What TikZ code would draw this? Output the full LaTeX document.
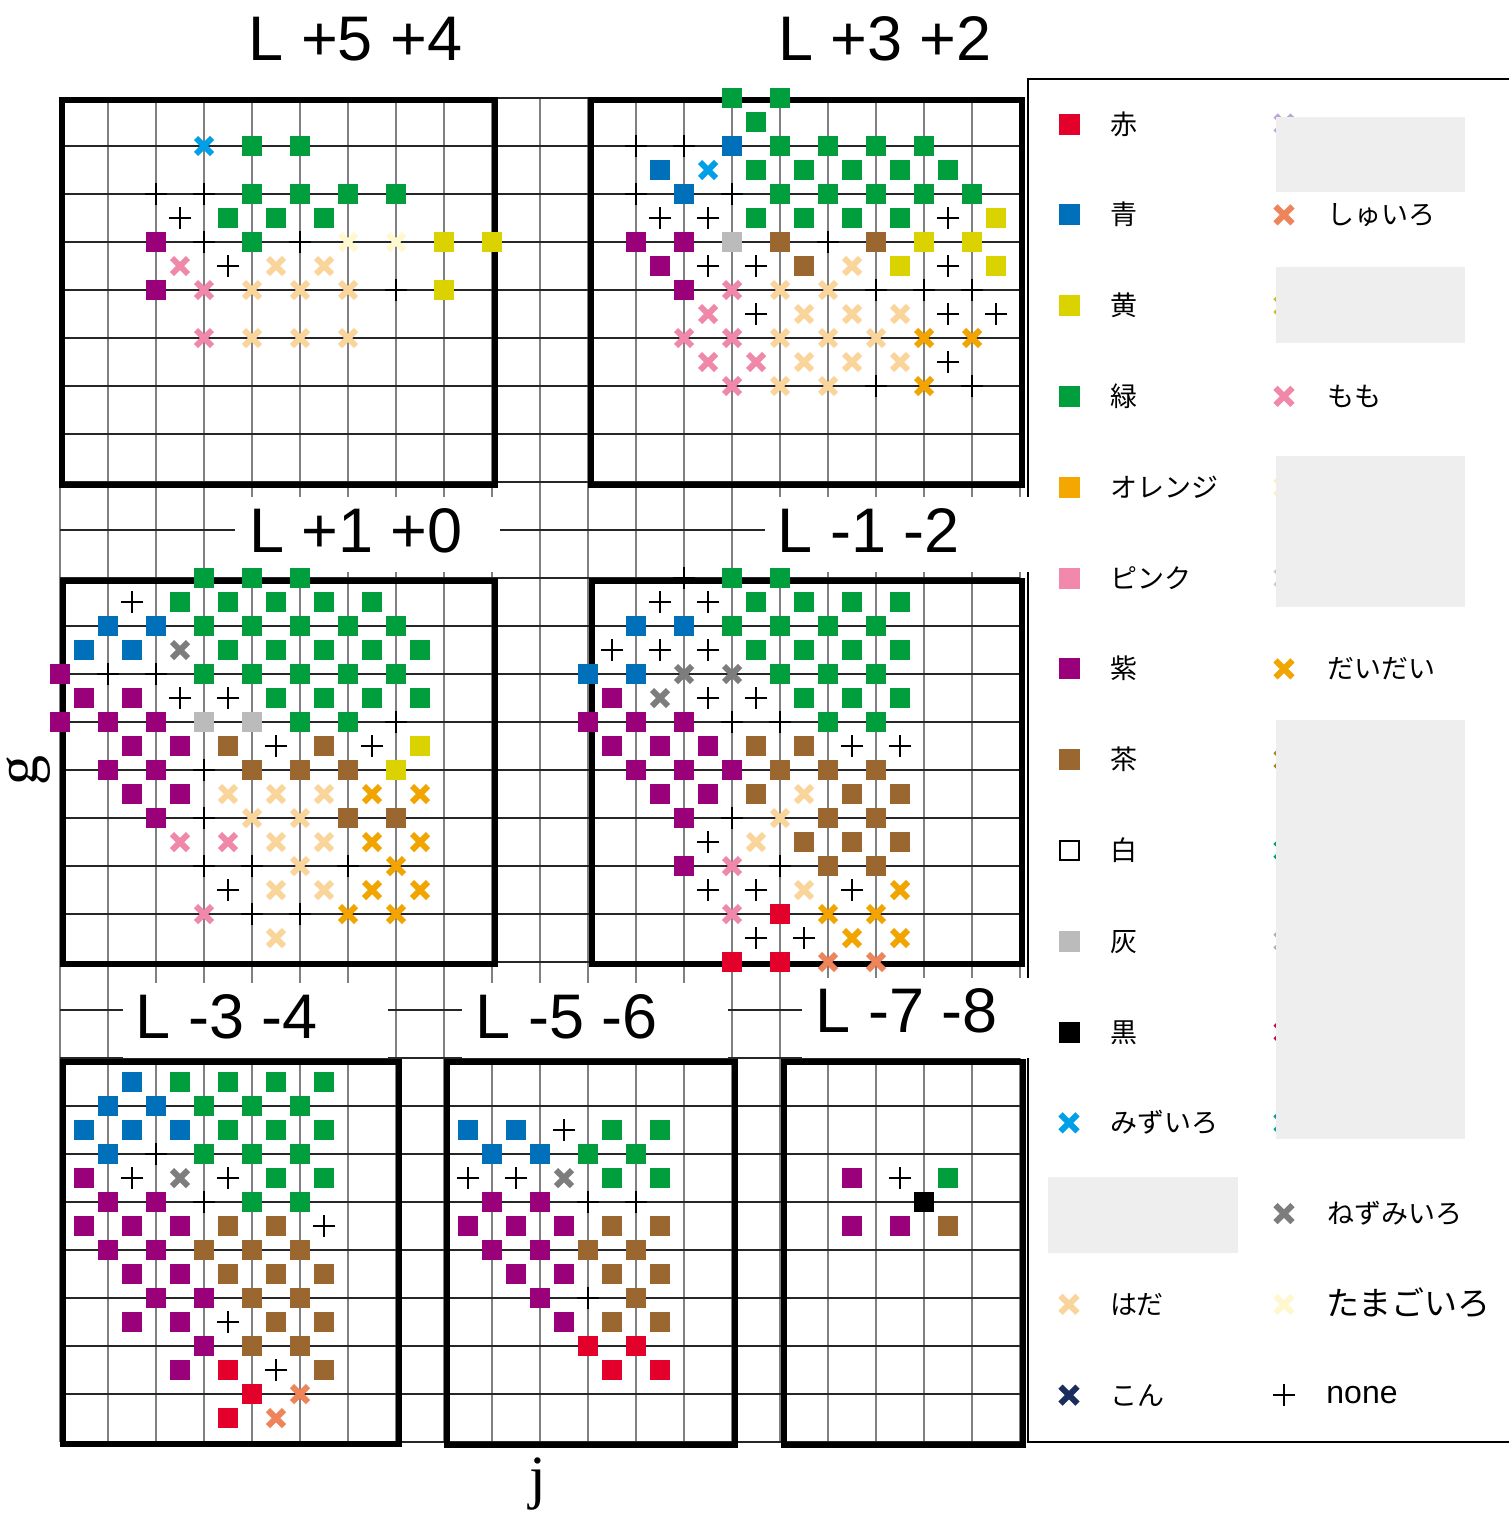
\documentclass[tikz,border=0pt]{standalone}
\usepackage{fontspec}
\setmainfont{Liberation Sans}
\newfontfamily\jpfont{Noto Sans CJK JP}
\newfontfamily\serifax{Liberation Serif}
\definecolor{cR}{HTML}{E3002B}
\definecolor{cB}{HTML}{0070BA}
\definecolor{cY}{HTML}{DAD300}
\definecolor{cG}{HTML}{009E3D}
\definecolor{cO}{HTML}{F3A700}
\definecolor{cPk}{HTML}{F288AB}
\definecolor{cP}{HTML}{990079}
\definecolor{cN}{HTML}{9A6731}
\definecolor{cA}{HTML}{BBBBBB}
\definecolor{cMz}{HTML}{00A0E8}
\definecolor{cSh}{HTML}{EE845A}
\definecolor{cMo}{HTML}{F088AA}
\definecolor{cDa}{HTML}{F2A400}
\definecolor{cNz}{HTML}{7D7D7D}
\definecolor{cHa}{HTML}{F9D59C}
\definecolor{cTa}{HTML}{FFF7CE}
\definecolor{cKo}{HTML}{1A2D5C}
\definecolor{cLav}{HTML}{BBA5D9}
\definecolor{cOl}{HTML}{C8BC1E}
\definecolor{cPy}{HTML}{FFF3A6}
\definecolor{cLg}{HTML}{C8C8C8}
\definecolor{cOl2}{HTML}{9C8A1E}
\definecolor{cGr2}{HTML}{00A06A}
\definecolor{cGy2}{HTML}{B0B0B0}
\definecolor{cCr}{HTML}{C8003C}
\definecolor{cTe}{HTML}{009E96}
\definecolor{cBox}{HTML}{EEEEEE}
\newcommand\mkSq[3]{\fill[#1] ({60+24*#2-10},{98+24*#3-10}) rectangle ++(20,20);}
\newcommand\mkX[3]{\draw[#1,line width=3pt] ({60+24*#2-8},{98+24*#3-8}) -- ++(16,16) ({60+24*#2-8},{98+24*#3+8}) -- ++(16,-16);}
\newcommand\mkPlus[2]{\draw[black,line width=1pt] ({60+24*#1-11},{98+24*#2}) -- ++(22,0) ({60+24*#1},{98+24*#2-11}) -- ++(0,22);}
\newcommand\lgY[1]{124+90.8*#1}
\newcommand\lgSq[3]{\fill[#1] ({#2-10.5},{\lgY{#3}-10.5}) rectangle ++(21,21);}
\newcommand\lgX[3]{\draw[#1,line width=3pt] ({#2-8.5},{\lgY{#3}-8.5}) -- ++(17,17) ({#2-8.5},{\lgY{#3}+8.5}) -- ++(17,-17);}
\begin{document}
\begin{tikzpicture}[x=0.5pt,y=-0.5pt,
  vgrid/.style={draw=black!50,line width=0.75pt},
  hgrid/.style={draw=black!85,line width=0.6pt},
  frame/.style={draw=black,line width=3pt,line join=miter},
  ttl/.style={anchor=base,inner sep=0pt,font=\fontsize{31.5}{36}\selectfont},
  lgl/.style={anchor=base west,inner sep=0pt,font=\jpfont\fontsize{13.5}{15}\selectfont},
  axl/.style={anchor=base,inner sep=0pt,font=\serifax\fontsize{30}{32}\selectfont}]
\useasboundingbox (0,0) rectangle (1509,1515);
\clip (0,0) rectangle (1509,1515);
% grid
\foreach \k in {0,...,20} \draw[vgrid] ({60+48*\k},98) -- ({60+48*\k},1442);
\foreach \k in {0,...,28} \draw[hgrid] (60,{98+48*\k}) -- (1020,{98+48*\k});
% legend border
\draw[line width=0.8pt] (1028,79) rectangle (1540,1442);
% title boxes
\fill[white] (235,497) rectangle (500,572);
\fill[white] (765,497) rectangle (1032,572);
\fill[white] (123,983) rectangle (388,1058);
\fill[white] (462,983) rectangle (728,1058);
\fill[white] (802,978) rectangle (1032,1058);
% titles
\node[ttl] (t54) at (355.5,60) {L +5 +4};
\node[ttl] (t32) at (885,60) {L +3 +2};
\node[ttl] (t10) at (356,552) {L +1 +0};
\node[ttl] (tm12) at (869,552) {L -1 -2};
\node[ttl] (tm34) at (227,1038) {L -3 -4};
\node[ttl] (tm56) at (567,1038) {L -5 -6};
\node[ttl] (tm78) at (907,1032) {L -7 -8};
% frames
\draw[frame] (62,100) rectangle (494.5,484.5);
\draw[frame] (591,100) rectangle (1021.5,485);
\draw[frame] (62.5,581) rectangle (494.5,964);
\draw[frame] (591.5,581) rectangle (1021.5,964);
\draw[frame] (62.5,1062) rectangle (398.5,1444);
\draw[frame] (447,1062) rectangle (735,1445);
\draw[frame] (784,1062) rectangle (1022.5,1445);
% green
\foreach \c/\r in {8/2,10/2,8/4,10/4,12/4,14/4,7/5,9/5,11/5,8/6,
 28/0,30/0,29/1,30/2,32/2,34/2,36/2,29/3,31/3,33/3,35/3,37/3,30/4,32/4,34/4,36/4,38/4,29/5,31/5,33/5,35/5,
 6/20,8/20,10/20,5/21,7/21,9/21,11/21,13/21,6/22,8/22,10/22,12/22,14/22,7/23,9/23,11/23,13/23,15/23,6/24,8/24,10/24,12/24,14/24,9/25,11/25,13/25,15/25,10/26,12/26,
 28/20,30/20,29/21,31/21,33/21,35/21,28/22,30/22,32/22,34/22,29/23,31/23,33/23,35/23,30/24,32/24,34/24,31/25,33/25,35/25,32/26,34/26,
 5/41,7/41,9/41,11/41,6/42,8/42,10/42,7/43,9/43,11/43,6/44,8/44,10/44,9/45,11/45,8/46,10/46,
 23/43,25/43,22/44,24/44,23/45,25/45,37/45} {\mkSq{cG}{\c}{\r}}
% blue
\foreach \c/\r in {28/2,25/3,26/4,2/22,4/22,1/23,3/23,24/22,26/22,22/24,24/24,
 3/41,2/42,4/42,1/43,3/43,5/43,2/44,17/43,19/43,18/44,20/44} {\mkSq{cB}{\c}{\r}}
% yellow
\foreach \c/\r in {16/6,18/6,16/8,39/5,36/6,38/6,35/7,39/7,15/27,14/28} {\mkSq{cY}{\c}{\r}}
% red
\foreach \c/\r in {30/34,28/36,30/36,7/53,8/54,7/55,22/52,24/52,23/53,25/53} {\mkSq{cR}{\c}{\r}}
% purple
\foreach \c/\r in {4/6,4/8,24/6,26/6,25/7,26/8,
 0/24,1/25,3/25,0/26,2/26,4/26,3/27,5/27,2/28,4/28,3/29,5/29,4/30,
 23/25,22/26,24/26,26/26,23/27,25/27,27/27,24/28,26/28,28/28,25/29,27/29,26/30,26/32,
 1/45,2/46,4/46,1/47,3/47,5/47,2/48,4/48,3/49,5/49,4/50,6/50,3/51,5/51,6/52,5/53,
 18/46,20/46,17/47,19/47,21/47,18/48,20/48,19/49,21/49,20/50,21/51,33/45,33/47,35/47} {\mkSq{cP}{\c}{\r}}
% brown
\foreach \c/\r in {30/6,34/6,31/7,7/27,11/27,8/28,10/28,12/28,12/30,14/30,
 29/27,31/27,30/28,32/28,34/28,29/29,33/29,35/29,32/30,34/30,31/31,33/31,35/31,32/32,34/32,
 7/47,9/47,6/48,8/48,10/48,7/49,9/49,11/49,8/50,10/50,9/51,11/51,8/52,10/52,11/53,
 23/47,25/47,22/48,24/48,23/49,25/49,24/50,23/51,25/51,37/47} {\mkSq{cN}{\c}{\r}}
% gray, black
\foreach \c/\r in {28/6,6/26,8/26} {\mkSq{cA}{\c}{\r}}
\mkSq{black}{36}{46}
% crosses
\foreach \c/\r in {6/2,27/3} {\mkX{cMz}{\c}{\r}}
\foreach \c/\r in {32/36,34/36,10/54,9/55} {\mkX{cSh}{\c}{\r}}
\foreach \c/\r in {5/7,6/8,6/10,28/8,27/9,26/10,28/10,27/11,29/11,28/12,5/31,7/31,6/34,28/32,28/34} {\mkX{cMo}{\c}{\r}}
\foreach \c/\r in {36/10,38/10,36/12,13/29,15/29,13/31,15/31,14/32,13/33,15/33,12/34,14/34,35/33,32/34,34/34,33/35,35/35} {\mkX{cDa}{\c}{\r}}
\foreach \c/\r in {5/23,26/24,28/24,25/25,5/45,21/45} {\mkX{cNz}{\c}{\r}}
\foreach \c/\r in {9/7,11/7,8/8,10/8,12/8,8/10,10/10,12/10,
 33/7,30/8,32/8,31/9,33/9,35/9,30/10,32/10,34/10,31/11,33/11,35/11,30/12,32/12,
 7/29,9/29,11/29,8/30,10/30,9/31,11/31,10/32,9/33,11/33,9/35,31/29,30/30,29/31,31/33} {\mkX{cHa}{\c}{\r}}
\foreach \c/\r in {12/6,14/6} {\mkX{cTa}{\c}{\r}}
% plus
\foreach \c/\r in {4/4,6/4,5/5,6/6,10/6,7/7,14/8,
 24/2,26/2,24/4,28/4,25/5,27/5,37/5,32/6,27/7,29/7,37/7,34/8,36/8,38/8,29/9,37/9,39/9,37/11,34/12,38/12,
 3/21,2/24,4/24,5/25,7/25,14/26,9/27,13/27,6/28,6/30,6/32,8/32,12/32,7/33,8/34,10/34,
 26/20,25/21,27/21,23/23,25/23,27/23,27/25,29/25,28/26,30/26,33/27,35/27,28/30,27/31,30/32,27/33,29/33,33/33,29/35,31/35,
 4/44,3/45,7/45,6/46,11/47,7/51,9/53,21/43,17/45,19/45,22/46,24/46,22/50,35/45} {\mkPlus{\c}{\r}}
% legend column 1
\lgSq{cR}{1069}{0}  \node[lgl] (l0) at (1110,{\lgY{0}+10}) {赤};
\lgSq{cB}{1069}{1}  \node[lgl] (l1) at (1110,{\lgY{1}+10}) {青};
\lgSq{cY}{1069}{2}  \node[lgl] (l2) at (1110,{\lgY{2}+10}) {黄};
\lgSq{cG}{1069}{3}  \node[lgl] (l3) at (1110,{\lgY{3}+10}) {緑};
\lgSq{cO}{1069}{4}  \node[lgl] (l4) at (1110,{\lgY{4}+10}) {オレンジ};
\lgSq{cPk}{1069}{5} \node[lgl] (l5) at (1110,{\lgY{5}+10}) {ピンク};
\lgSq{cP}{1069}{6}  \node[lgl] (l6) at (1110,{\lgY{6}+10}) {紫};
\lgSq{cN}{1069}{7}  \node[lgl] (l7) at (1110,{\lgY{7}+10}) {茶};
\draw[line width=1pt] (1059.5,{\lgY{8}-9.5}) rectangle ++(19,19);
\node[lgl] (l8) at (1110,{\lgY{8}+10}) {白};
\lgSq{cA}{1069}{9}  \node[lgl] (l9) at (1110,{\lgY{9}+10}) {灰};
\lgSq{black}{1069}{10} \node[lgl] (l10) at (1110,{\lgY{10}+10}) {黒};
\lgX{cMz}{1069}{11} \node[lgl] (l11) at (1110,{\lgY{11}+10}) {みずいろ};
\lgX{cHa}{1069}{13} \node[lgl] (l13) at (1110,{\lgY{13}+10}) {はだ};
\lgX{cKo}{1069}{14} \node[lgl] (l14) at (1110,{\lgY{14}+10}) {こん};
% legend column 2
\lgX{cLav}{1284}{0}
\lgX{cSh}{1284}{1}  \node[lgl] (m1) at (1327,{\lgY{1}+10}) {しゅいろ};
\lgX{cOl}{1284}{2}
\lgX{cMo}{1284}{3}  \node[lgl] (m3) at (1327,{\lgY{3}+10}) {もも};
\lgX{cPy}{1284}{4}
\lgX{cLg}{1284}{5}
\lgX{cDa}{1284}{6}  \node[lgl] (m6) at (1327,{\lgY{6}+10}) {だいだい};
\lgX{cOl2}{1284}{7}
\lgX{cGr2}{1284}{8}
\lgX{cGy2}{1284}{9}
\lgX{cCr}{1284}{10}
\lgX{cTe}{1284}{11}
\lgX{cNz}{1284}{12} \node[lgl] (m12) at (1327,{\lgY{12}+10}) {ねずみいろ};
\lgX{cTa}{1284}{13} \node[lgl,font=\jpfont\fontsize{16.5}{18}\selectfont] (m13) at (1326,{\lgY{13}+11}) {たまごいろ};
\draw[line width=1pt] (1273,{\lgY{14}}) -- ++(22,0) (1284,{\lgY{14}-11}) -- ++(0,22);
\node[anchor=base west,inner sep=0pt,font=\fontsize{16}{18}\selectfont] (m14) at (1326,{\lgY{14}+8}) {none};
% gray cover boxes
\fill[cBox] (1276,117) rectangle (1465,192);
\fill[cBox] (1276,267) rectangle (1465,343);
\fill[cBox] (1276,456) rectangle (1465,607);
\fill[cBox] (1276,720) rectangle (1465,1139);
\fill[cBox] (1048,1177) rectangle (1238,1253);
% axis labels
\node[axl] (xl) at (538,1497) {j};
\node[axl,rotate=90,text height=0.46em,text depth=0.22em] (yl) at (38,770) {g};
\end{tikzpicture}
\end{document}
